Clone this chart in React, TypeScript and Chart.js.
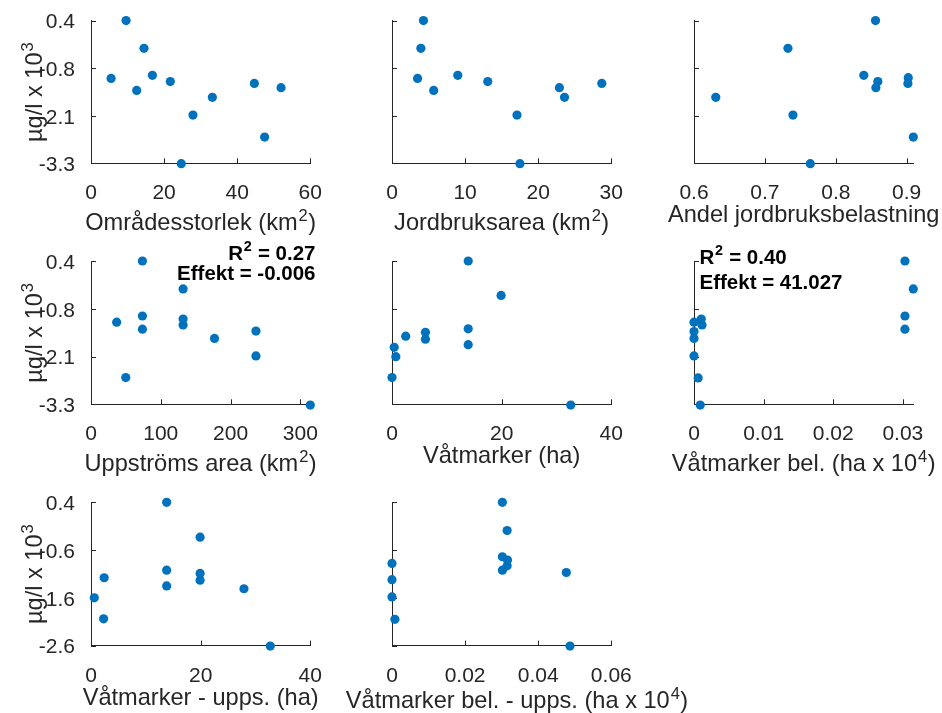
import React, { useEffect, useRef } from 'react';
import { Chart, registerables } from 'chart.js';

Chart.register(...registerables);

// ---------------- data ----------------
const omradesX = [9.6, 14.5, 5.5, 12.5, 16.8, 21.7, 24.7, 27.9, 33.2, 44.7, 47.5, 52.0];
const omradesY = [0.4, -0.32, -1.1, -1.41, -1.02, -1.18, -3.31, -2.05, -1.59, -1.23, -2.62, -1.34];

const jordbruksX = [4.3, 3.95, 3.5, 5.7, 9.0, 13.1, 17.1, 17.5, 22.9, 23.6, 28.7];
const jordbruksY = [0.4, -0.32, -1.1, -1.41, -1.02, -1.18, -2.05, -3.31, -1.34, -1.59, -1.23];

const andelX = [0.856, 0.7325, 0.6307, 0.7396, 0.764, 0.8395, 0.8593, 0.8565, 0.9022, 0.9017, 0.9093];
const andelY = [0.4, -0.32, -1.59, -2.05, -3.31, -1.02, -1.18, -1.34, -1.08, -1.23, -2.62];

const uppstromsX = [73.7, 132, 36.8, 73.7, 73.7, 132, 132, 177, 236.4, 236.4, 49.8, 314.3];
const uppstromsY = [0.4, -0.32, -1.18, -1.02, -1.36, -1.1, -1.25, -1.6, -1.41, -2.05, -2.61, -3.32];

const vatmarkerX = [13.9, 19.9, 6.1, 6.1, 2.5, 13.9, 13.9, 0.4, 0.7, 0, 32.6];
const vatmarkerY = [0.4, -0.49, -1.44, -1.62, -1.54, -1.35, -1.76, -1.83, -2.07, -2.61, -3.32];

const vatBelX = [0.0303, 0.0315, 0.0303, 0.0303, 0, 0.00105, 0.00115, 0, 0, 0, 0.0006, 0.0009];
const vatBelY = [0.4, -0.32, -1.02, -1.36, -1.18, -1.1, -1.25, -1.42, -1.6, -2.05, -2.62, -3.32];

const vatUppsX = [13.8, 19.9, 13.8, 13.8, 19.9, 19.9, 2.4, 0.6, 2.3, 27.9, 32.7];
const vatUppsY = [0.4, -0.33, -1.02, -1.35, -1.09, -1.23, -1.18, -1.6, -2.04, -1.41, -2.61];

const vatBelUppsX = [0.0302, 0.0315, 0.0302, 0.0316, 0.0315, 0.0302, 0.0477, 0, 0, 0, 0.0008, 0.0487];
const vatBelUppsY = [0.4, -0.19, -0.74, -0.81, -0.93, -1.02, -1.07, -0.88, -1.22, -1.58, -2.05, -2.61];

// tick values and labels
const Y_TICKS_A = [-3.3, -2.0667, -0.8333, 0.4];
const Y_TICK_LABELS_A = ['-3.3', '-2.1', '-0.8', '0.4'];
const Y_TICKS_B = [-2.6, -1.6, -0.6, 0.4];
const Y_TICK_LABELS_B = ['-2.6', '-1.6', '-0.6', '0.4'];

const X_TICKS_1 = [0, 20, 40, 60];
const X_TICKS_2 = [0, 10, 20, 30];
const X_TICKS_3 = [0.6, 0.7, 0.8, 0.9];
const X_TICKS_4 = [0, 100, 200, 300];
const X_TICKS_5 = [0, 20, 40];
const X_TICKS_6 = [0, 0.01, 0.02, 0.03];
const X_TICKS_7 = [0, 20, 40];
const X_TICKS_8 = [0, 0.02, 0.04, 0.06];

const Y_LABEL = 'µg/l x 10^{3}';

// ---------------- layout / style ----------------
const W = 942;
const H = 713;
const FONT = "'Liberation Sans', Arial, Helvetica, sans-serif";
const AXIS_COLOR = '#262626';
const DOT_COLOR = '#0072BD';
const PLOT_LEFT = [91, 392, 694];
const PLOT_W = 219.3;
const PLOT_TOP = [20, 261, 502.3];
const PLOT_H = 143.3;
const Y_AXIS_W = 91;
const X_AXIS_H = 40;
const LABEL_SIZE = 23.6;

type Panel = {
  row: number;
  col: number;
  xs: number[];
  ys: number[];
  xMin: number;
  xMax: number;
  xTicks: number[];
  yMin: number;
  yMax: number;
  yTicks: number[];
  yTickLabels: string[];
  title: string;
  titleBaseline: number;
  titleCenter?: number;
  annot?: { x: number; align: 'left' | 'right'; lines: { text: string; baseline: number }[] };
};

const PANELS: Panel[] = [
  { row: 0, col: 0, xs: omradesX, ys: omradesY, xMin: 0, xMax: 60, xTicks: X_TICKS_1, yMin: -3.3, yMax: 0.4, yTicks: Y_TICKS_A, yTickLabels: Y_TICK_LABELS_A, title: 'Områdesstorlek (km^{2})', titleBaseline: 230 },
  { row: 0, col: 1, xs: jordbruksX, ys: jordbruksY, xMin: 0, xMax: 30, xTicks: X_TICKS_2, yMin: -3.3, yMax: 0.4, yTicks: Y_TICKS_A, yTickLabels: Y_TICK_LABELS_A, title: 'Jordbruksarea (km^{2})', titleBaseline: 230 },
  { row: 0, col: 2, xs: andelX, ys: andelY, xMin: 0.6, xMax: 0.9093, xTicks: X_TICKS_3, yMin: -3.3, yMax: 0.4, yTicks: Y_TICKS_A, yTickLabels: Y_TICK_LABELS_A, title: 'Andel jordbruksbelastning', titleBaseline: 221.7 },
  { row: 1, col: 0, xs: uppstromsX, ys: uppstromsY, xMin: 0, xMax: 314.3, xTicks: X_TICKS_4, yMin: -3.3, yMax: 0.4, yTicks: Y_TICKS_A, yTickLabels: Y_TICK_LABELS_A, title: 'Uppströms area (km^{2})', titleBaseline: 471,
    annot: { x: 315.5, align: 'right', lines: [{ text: 'R^{2} = 0.27', baseline: 259.5 }, { text: 'Effekt = -0.006', baseline: 280 }] } },
  { row: 1, col: 1, xs: vatmarkerX, ys: vatmarkerY, xMin: 0, xMax: 40, xTicks: X_TICKS_5, yMin: -3.3, yMax: 0.4, yTicks: Y_TICKS_A, yTickLabels: Y_TICK_LABELS_A, title: 'Våtmarker (ha)', titleBaseline: 463 },
  { row: 1, col: 2, xs: vatBelX, ys: vatBelY, xMin: 0, xMax: 0.0315, xTicks: X_TICKS_6, yMin: -3.3, yMax: 0.4, yTicks: Y_TICKS_A, yTickLabels: Y_TICK_LABELS_A, title: 'Våtmarker bel. (ha x 10^{4})', titleBaseline: 471,
    annot: { x: 699.5, align: 'left', lines: [{ text: 'R^{2} = 0.40', baseline: 263.5 }, { text: 'Effekt = 41.027', baseline: 289 }] } },
  { row: 2, col: 0, xs: vatUppsX, ys: vatUppsY, xMin: 0, xMax: 40, xTicks: X_TICKS_7, yMin: -2.6, yMax: 0.4, yTicks: Y_TICKS_B, yTickLabels: Y_TICK_LABELS_B, title: 'Våtmarker - upps. (ha)', titleBaseline: 704.5 },
  { row: 2, col: 1, xs: vatBelUppsX, ys: vatBelUppsY, xMin: 0, xMax: 0.06, xTicks: X_TICKS_8, yMin: -2.6, yMax: 0.4, yTicks: Y_TICKS_B, yTickLabels: Y_TICK_LABELS_B, title: 'Våtmarker bel. - upps. (ha x 10^{4})', titleBaseline: 708, titleCenter: 517 },
];

// ---------------- rich text helper ----------------
function parseRich(s: string) {
  const segs: { t: string; sup: boolean }[] = [];
  const re = /\^\{([^}]*)\}/g;
  let last = 0;
  let m: RegExpExecArray | null;
  while ((m = re.exec(s))) {
    if (m.index > last) segs.push({ t: s.slice(last, m.index), sup: false });
    segs.push({ t: m[1], sup: true });
    last = re.lastIndex;
  }
  if (last < s.length) segs.push({ t: s.slice(last), sup: false });
  return segs;
}

function drawRich(ctx: CanvasRenderingContext2D, s: string, x: number, y: number, size: number, bold: boolean, align: 'left' | 'right' | 'center', color: string) {
  const segs = parseRich(s);
  const font = (sz: number) => `${bold ? 'bold ' : ''}${sz}px ${FONT}`;
  let total = 0;
  const widths = segs.map((sg) => {
    ctx.font = font(sg.sup ? size * 0.7 : size);
    const w = ctx.measureText(sg.t).width + (sg.sup ? size * 0.06 : 0);
    total += w;
    return w;
  });
  let cx = align === 'left' ? x : align === 'right' ? x - total : x - total / 2;
  ctx.fillStyle = color;
  ctx.textAlign = 'left';
  ctx.textBaseline = 'alphabetic';
  segs.forEach((sg, i) => {
    ctx.font = font(sg.sup ? size * 0.7 : size);
    ctx.fillText(sg.t, cx + (sg.sup ? size * 0.04 : 0), sg.sup ? y - size * 0.4 : y);
    cx += widths[i];
  });
}

function makePlugin(p: Panel) {
  return {
    id: 'matlabDecor',
    beforeDatasetsDraw(chart: any) {
      const { ctx, chartArea } = chart;
      const xs = chart.scales.x;
      const ys = chart.scales.y;
      ctx.save();
      ctx.strokeStyle = AXIS_COLOR;
      ctx.lineWidth = 1;
      ctx.beginPath();
      xs.ticks.forEach((t: any) => {
        const px = Math.round(xs.getPixelForValue(t.value)) + 0.5;
        ctx.moveTo(px, chartArea.bottom);
        ctx.lineTo(px, chartArea.bottom - 5);
      });
      ys.ticks.forEach((t: any) => {
        const py = Math.round(ys.getPixelForValue(t.value)) + 0.5;
        ctx.moveTo(chartArea.left, py);
        ctx.lineTo(chartArea.left + 5, py);
      });
      ctx.stroke();
      ctx.restore();
    },
    afterDraw(chart: any) {
      const { ctx, chartArea } = chart;
      ctx.save();
      const cx = p.titleCenter ?? (chartArea.left + chartArea.right) / 2;
      drawRich(ctx, p.title, cx, p.titleBaseline, LABEL_SIZE, false, 'center', AXIS_COLOR);
      if (p.col === 0) {
        const cy = (chartArea.top + chartArea.bottom) / 2;
        ctx.save();
        ctx.translate(42, cy);
        ctx.rotate(-Math.PI / 2);
        drawRich(ctx, Y_LABEL, 0, 0, LABEL_SIZE, false, 'center', AXIS_COLOR);
        ctx.restore();
      }
      if (p.annot) {
        p.annot.lines.forEach((l) => drawRich(ctx, l.text, p.annot!.x, l.baseline, 20.5, true, p.annot!.align, '#000000'));
      }
      ctx.restore();
    },
  };
}

function PanelChart({ p }: { p: Panel }) {
  const ref = useRef<HTMLCanvasElement | null>(null);
  useEffect(() => {
    if (!ref.current) return;
    const left = PLOT_LEFT[p.col];
    const top = PLOT_TOP[p.row];
    const points = p.xs.map((x, i) => ({ x, y: p.ys[i] }));
    const chart = new Chart(ref.current, {
      type: 'scatter',
      data: {
        datasets: [
          {
            data: points,
            backgroundColor: DOT_COLOR,
            borderWidth: 0,
            pointRadius: 4.6,
            pointHoverRadius: 4.6,
            clip: false as any,
          },
        ],
      },
      options: {
        responsive: false,
        animation: false,
        events: [],
        layout: {
          padding: {
            left: left - Y_AXIS_W,
            right: W - (left + PLOT_W),
            top: top,
            bottom: H - (top + PLOT_H) - X_AXIS_H,
          },
        },
        plugins: { legend: { display: false }, tooltip: { enabled: false }, title: { display: false } },
        scales: {
          x: {
            type: 'linear',
            min: p.xMin,
            max: p.xMax,
            grid: { display: false },
            border: { display: true, color: AXIS_COLOR, width: 1 },
            ticks: {
              autoSkip: false,
              maxRotation: 0,
              padding: 9.7,
              color: AXIS_COLOR,
              font: { family: FONT, size: 21 },
              callback: (v: any) => String(v),
            },
            afterBuildTicks: (s: any) => {
              s.ticks = p.xTicks.map((v) => ({ value: v }));
            },
            afterFit: (s: any) => {
              s.height = X_AXIS_H;
            },
          },
          y: {
            type: 'linear',
            min: p.yMin,
            max: p.yMax,
            grid: { display: false },
            border: { display: true, color: AXIS_COLOR, width: 1 },
            ticks: {
              autoSkip: false,
              padding: 8,
              labelOffset: 2,
              color: AXIS_COLOR,
              font: { family: FONT, size: 21 },
              callback: (_v: any, i: number) => (p.col === 0 ? p.yTickLabels[i] : ''),
            },
            afterBuildTicks: (s: any) => {
              s.ticks = p.yTicks.map((v) => ({ value: v }));
            },
            afterFit: (s: any) => {
              s.width = Y_AXIS_W;
            },
          },
        },
      },
      plugins: [makePlugin(p)],
    });
    return () => chart.destroy();
  }, [p]);
  return <canvas ref={ref} width={W} height={H} style={{ position: 'absolute', left: 0, top: 0, width: W, height: H }} />;
}

export default function App() {
  return (
    <div style={{ position: 'fixed', left: 0, top: 0, width: W, height: H, background: '#ffffff', overflow: 'hidden' }}>
      {PANELS.map((p, i) => (
        <PanelChart key={i} p={p} />
      ))}
    </div>
  );
}
